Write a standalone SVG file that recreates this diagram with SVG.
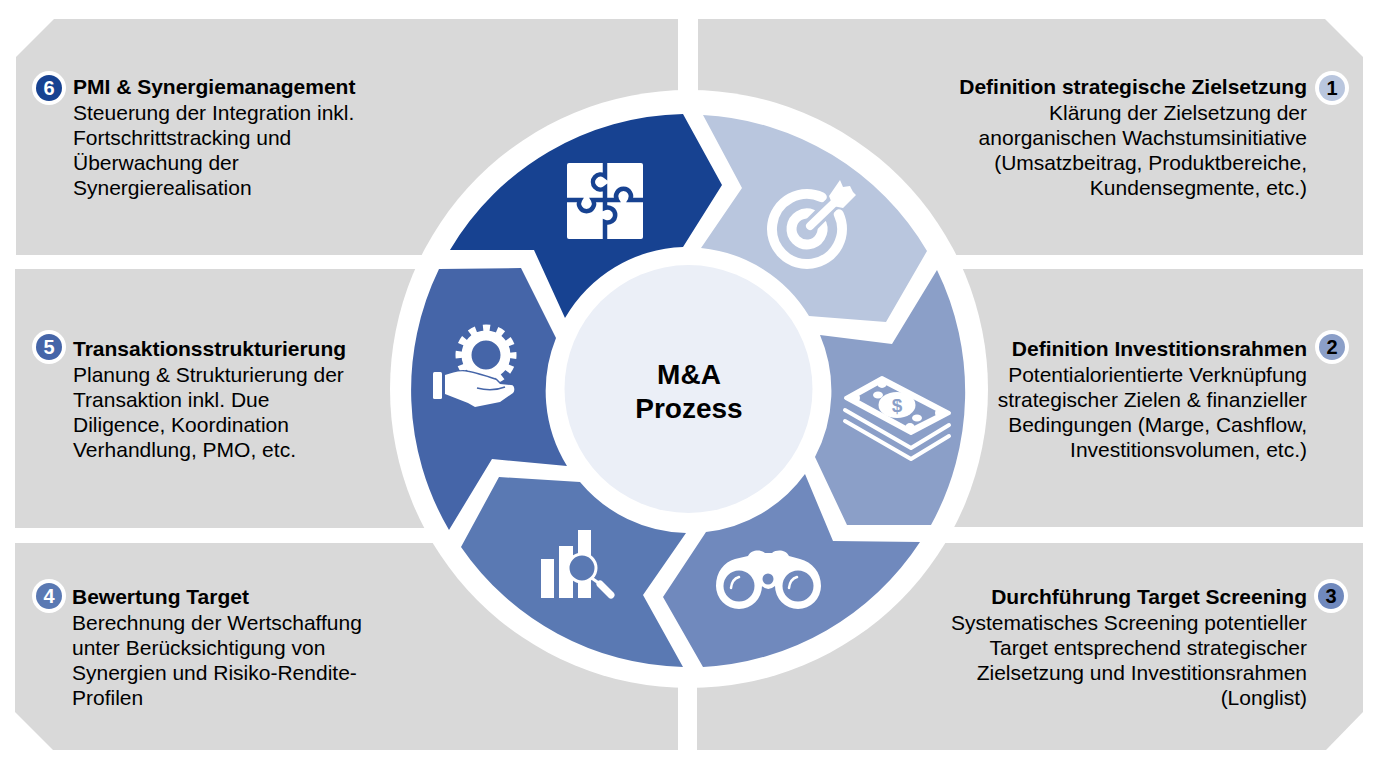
<svg xmlns="http://www.w3.org/2000/svg" width="1378" height="764" viewBox="0 0 1378 764">
<style>
text{font-family:"Liberation Sans",Arial,sans-serif;font-size:21px;fill:#000}
.h{font-weight:700}
.r{text-anchor:end}
.panel{fill:#d9d9d9}
.w{fill:#fff}
.badge{font-weight:700;text-anchor:middle;font-size:20px}
.ring{fill:#fff}
.ic{fill:none;stroke:#fff;stroke-linecap:round;stroke-linejoin:round}
</style>
<rect width="1378" height="764" fill="#fff"/>
<g id="panels">
<path class="panel" d="M54 19H678V255H16V57Z"/>
<path class="panel" d="M698 19H1325L1363 57V255H698Z"/>
<rect class="panel" x="15" y="269" width="600" height="259"/>
<rect class="panel" x="763" y="269" width="600" height="258"/>
<path class="panel" d="M15 543H678V750H53L15 712Z"/>
<path class="panel" d="M697 543H1363V712L1326 750H697Z"/>
</g>
<circle cx="689" cy="389" r="299" fill="#fff"/>
<g id="step6">
<path fill="#174291" d="M450 250A277 277 0 0 1 683 114L722 185L683 247A142 142 0 0 0 565 318L534 250Z"/>
<rect class="w" x="567" y="163" width="76" height="76" rx="2"/>
<g fill="none" stroke="#174291" stroke-width="4.5">
<path d="M605 163V176A7.5 7.5 0 1 0 605 188V200"/>
<path d="M605 200H617A7.500 7.500 0 1 1 630 200H643"/>
<path d="M567 200H580A7.500 7.500 0 1 0 593 200H605"/>
<path d="M605 239V222A7.500 7.500 0 1 0 605 208V200"/>
</g>
</g>
<g id="step1">
<path fill="#b9c6de" d="M703 115A277 277 0 0 1 927 251L886 322L809 316A142 142 0 0 0 701 248L742 188Z"/>
<path class="ic" stroke-width="10" stroke-linecap="butt" d="M821.8 197.3A35 35 0 1 0 838.700 214.2"/>
<path class="ic" stroke-width="10" stroke-linecap="butt" d="M812.3 214.4A15.5 15.5 0 1 0 821.600 223.7"/>
<path fill="none" stroke="#b9c6de" stroke-width="15" d="M808 228L834 202"/>
<path class="ic" stroke-width="8" d="M810 226L835 202"/>
<path class="w" d="M829 196L840 180L843 187L850 186L853 192L856 195L843 208L833 206Z"/>
</g>
<g id="step2">
<path fill="#8b9fc8" d="M937 270A277 277 0 0 1 931 525H847L815 457A142 142 0 0 0 820 335L892 344Z"/>
<path class="w" stroke="#fff" stroke-width="4" stroke-linejoin="round" d="M846 398L882 378L949 413L911 433Z"/>
<path fill="#8b9fc8" d="M855 398L882 383L940 413L910 428Z"/>
<circle class="w" cx="882" cy="383" r="5"/><circle class="w" cx="855" cy="398" r="5"/><circle class="w" cx="940" cy="413" r="5"/><circle class="w" cx="910" cy="428" r="5"/>
<ellipse class="w" cx="897" cy="405" rx="18.5" ry="13"/>
<ellipse class="w" cx="878" cy="395" rx="5" ry="3.5"/><ellipse class="w" cx="917" cy="418" rx="5" ry="3.5"/>
<path class="ic" stroke-width="4" d="M845 410L911 448L949 425M845 421L911 459L949 436"/>
<text x="897" y="412" style="font-size:19px;font-weight:700;fill:#8b9fc8;text-anchor:middle">$</text>
</g>
<g id="step3">
<path fill="#7089bd" d="M920 542A277 277 0 0 1 703 667L663 597L706 532A142 142 0 0 0 805 474L833 541Z"/>
<path class="w" d="M716 586A23 23 0 0 0 762 586Q768 592 775 586A23 23 0 0 0 821 586C821 572 812 562 800 559L789 556C786 550 777 549 772 553H765C760 549 751 550 748 556L735 559C724 562 716 572 716 586Z"/>
<circle cx="739" cy="586" r="15.5" fill="#7089bd"/><circle cx="798" cy="586" r="15.5" fill="#7089bd"/><circle cx="768" cy="579" r="5.5" fill="#7089bd"/>
<path class="ic" stroke-width="2.5" d="M731 588Q732 579 739 577M789 588Q790 579 797 577"/>
</g>
<g id="step4">
<path fill="#5a79b3" d="M683 667A277 277 0 0 1 461 547L499 477L580 482A142 142 0 0 0 686 533L643 595Z"/>
<rect class="w" x="541" y="559" width="13" height="39"/><rect class="w" x="559" y="546" width="14" height="52"/><rect class="w" x="578" y="530" width="13" height="68"/>
<circle cx="582" cy="568" r="14" fill="#5a79b3" stroke="#fff" stroke-width="3"/>
<path fill="none" stroke="#5a79b3" stroke-width="2" d="M592 581L596 578"/>
<path class="ic" stroke-width="3" d="M593 579L600 584"/>
<path class="ic" stroke-width="7" d="M600 584L611 595"/>
</g>
<g id="step5">
<path fill="#4565a8" d="M449 530A277 277 0 0 1 439 269L521 268L556 338A142 142 0 0 0 567 466L492 459Z"/>
<circle cx="486" cy="355" r="19.500" fill="none" stroke="#fff" stroke-width="10"/>
<circle cx="486" cy="355" r="27" fill="none" stroke="#fff" stroke-width="7" stroke-dasharray="7.07 7.07" stroke-dashoffset="3.5"/>
<rect class="w" x="433" y="372" width="9" height="27" rx="1.5"/>
<path class="w" stroke="#4565a8" stroke-width="3" paint-order="stroke" d="M445 375C452 373 460 370 468 372C478 374 490 378 496 380L500 384L511 385C515 385 515 391 513 393L500 402L475 407L468 403L445 394Z"/>
<path fill="none" stroke="#4565a8" stroke-width="1.500" d="M477 388Q492 392 505 387"/>
</g>
<g id="center">
<circle cx="688.500" cy="389" r="124" fill="#ebeff7"/>
<text x="689" y="384" style="font-size:28px;font-weight:700;text-anchor:middle">M&amp;A</text>
<text x="689" y="418" style="font-size:28px;font-weight:700;text-anchor:middle">Prozess</text>
</g>
<g id="label1">
<circle cx="1332" cy="88" r="17" class="ring"/><circle cx="1332" cy="88" r="13" fill="#b9c6de"/><text class="badge" x="1332" y="95">1</text>
<text class="h r" x="1307" y="94">Definition strategische Zielsetzung</text>
<text class="r" x="1307" y="120">Klärung der Zielsetzung der</text>
<text class="r" x="1307" y="145">anorganischen Wachstumsinitiative</text>
<text class="r" x="1307" y="170">(Umsatzbeitrag, Produktbereiche,</text>
<text class="r" x="1307" y="195">Kundensegmente, etc.)</text>
</g>
<g id="label2">
<circle cx="1332" cy="347" r="17" class="ring"/><circle cx="1332" cy="347" r="13" fill="#8b9fc8"/><text class="badge" x="1332" y="354">2</text>
<text class="h r" x="1307" y="356">Definition Investitionsrahmen</text>
<text class="r" x="1307" y="382">Potentialorientierte Verknüpfung</text>
<text class="r" x="1307" y="407">strategischer Zielen &amp; finanzieller</text>
<text class="r" x="1307" y="432">Bedingungen (Marge, Cashflow,</text>
<text class="r" x="1307" y="457">Investitionsvolumen, etc.)</text>
</g>
<g id="label3">
<circle cx="1331" cy="596" r="17" class="ring"/><circle cx="1331" cy="596" r="13" fill="#7089bd"/><text class="badge" x="1331" y="603">3</text>
<text class="h r" x="1307" y="604">Durchführung Target Screening</text>
<text class="r" x="1307" y="630">Systematisches Screening potentieller</text>
<text class="r" x="1307" y="655">Target entsprechend strategischer</text>
<text class="r" x="1307" y="680">Zielsetzung und Investitionsrahmen</text>
<text class="r" x="1307" y="705">(Longlist)</text>
</g>
<g id="label4">
<circle cx="49" cy="596" r="17" class="ring"/><circle cx="49" cy="596" r="13" fill="#5a79b3"/><text class="badge" x="49" y="603" style="fill:#fff">4</text>
<text class="h" x="72" y="604">Bewertung Target</text>
<text x="72" y="630">Berechnung der Wertschaffung</text>
<text x="72" y="655">unter Berücksichtigung von</text>
<text x="72" y="680">Synergien und Risiko-Rendite-</text>
<text x="72" y="705">Profilen</text>
</g>
<g id="label5">
<circle cx="49" cy="347" r="17" class="ring"/><circle cx="49" cy="347" r="13" fill="#4565a8"/><text class="badge" x="49" y="354" style="fill:#fff">5</text>
<text class="h" x="73" y="356">Transaktionsstrukturierung</text>
<text x="73" y="382">Planung &amp; Strukturierung der</text>
<text x="73" y="407">Transaktion inkl. Due</text>
<text x="73" y="432">Diligence, Koordination</text>
<text x="73" y="457">Verhandlung, PMO, etc.</text>
</g>
<g id="label6">
<circle cx="49" cy="88" r="17" class="ring"/><circle cx="49" cy="88" r="13" fill="#174291"/><text class="badge" x="49" y="95" style="fill:#fff">6</text>
<text class="h" x="73" y="94">PMI &amp; Synergiemanagement</text>
<text x="73" y="120">Steuerung der Integration inkl.</text>
<text x="73" y="145">Fortschrittstracking und</text>
<text x="73" y="170">Überwachung der</text>
<text x="73" y="195">Synergierealisation</text>
</g>
</svg>
